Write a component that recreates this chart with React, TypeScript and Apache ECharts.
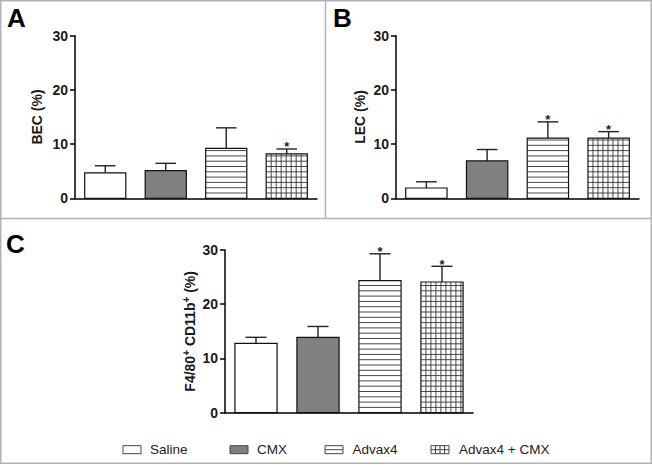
import React, { useEffect, useRef } from "react";
import * as echarts from "echarts";

const FONT = "'Liberation Sans', Arial, Helvetica, sans-serif";

// Data
const groups = ["Saline", "CMX", "Advax4", "Advax4 + CMX"];
const becMean = [4.7, 5.1, 9.2, 8.2];
const becSem = [1.3, 1.35, 3.8, 0.9];
const becSig = [false, false, false, true];
const lecMean = [1.9, 6.9, 11.1, 11.1];
const lecSem = [1.15, 2.1, 3.0, 1.2];
const lecSig = [false, false, true, true];
const macMean = [12.8, 13.9, 24.35, 24.1];
const macSem = [1.1, 2.0, 4.95, 2.9];
const macSig = [false, false, true, true];
const yMin = 0;
const yMax = 30;
const yInterval = 10;
const panelLetters = ["A", "B", "C"];
const yNames = ["BEC (%)", "LEC (%)", "F4/80{s|+} CD11b{s|+} (%)"];

const fills = ["#ffffff", "#808080", "#ffffff", "#ffffff"];
const patterns = ["none", "none", "h", "grid"];

function renderItem(params: any, api: any) {
  const idx = api.value(0);
  const mean = api.value(1);
  const sem = api.value(2);
  const sig = api.value(3);
  const top = api.coord([idx, mean]);
  const base = api.coord([idx, 0]);
  const band = api.size([1, 0])[0];
  const barW = band * 0.68;
  const cx = top[0];
  const x0 = cx - barW / 2;
  const h = base[1] - top[1];
  const children: any[] = [];
  const errTop = api.coord([idx, mean + sem]);
  children.push({
    type: "line",
    shape: { x1: cx, y1: top[1], x2: cx, y2: errTop[1] },
    style: { stroke: "#222", lineWidth: 1.4 },
  });
  children.push({
    type: "line",
    shape: { x1: cx - barW / 4, y1: errTop[1], x2: cx + barW / 4, y2: errTop[1] },
    style: { stroke: "#222", lineWidth: 1.4 },
  });
  children.push({
    type: "rect",
    shape: { x: x0, y: top[1], width: barW, height: h },
    style: { fill: fills[idx], stroke: "#111", lineWidth: 1.2 },
  });
  const pat = patterns[idx];
  if (pat === "h" || pat === "grid") {
    for (let y = base[1] - 5.3; y > top[1] + 1.5; y -= 5.3) {
      children.push({
        type: "line",
        shape: { x1: x0, y1: y, x2: x0 + barW, y2: y },
        style: { stroke: "#333", lineWidth: 0.9 },
      });
    }
  }
  if (pat === "grid") {
    for (let x = x0 + 5; x < x0 + barW - 1.5; x += 5) {
      children.push({
        type: "line",
        shape: { x1: x, y1: top[1], x2: x, y2: base[1] },
        style: { stroke: "#333", lineWidth: 0.9 },
      });
    }
  }
  if (sig) {
    children.push({
      type: "text",
      x: cx,
      y: errTop[1] - 2,
      style: {
        text: "*",
        fill: "#222",
        fontSize: 13,
        fontWeight: "bold",
        fontFamily: FONT,
        align: "center",
        verticalAlign: "middle",
      },
    });
  }
  return { type: "group", children };
}

export default function App() {
  const ref = useRef<HTMLDivElement>(null);
  useEffect(() => {
    if (!ref.current) return;
    const chart = echarts.init(ref.current, undefined, { renderer: "svg" });
    const panels = [
      { mean: becMean, sem: becSem, sig: becSig },
      { mean: lecMean, sem: lecSem, sig: lecSig },
      { mean: macMean, sem: macSem, sig: macSig },
    ];
    const grids = [
      { left: 75, top: 35.7, width: 242, height: 162.6 },
      { left: 396, top: 35.7, width: 243, height: 162.6 },
      { left: 225, top: 250, width: 248, height: 162.7 },
    ];
    const nameGaps = [30, 28, 25];
    const border = "#b3b3b3";
    const graphic: any[] = [
      {
        type: "rect",
        shape: { x: 0.75, y: 0.75, width: 650.5, height: 462.5 },
        style: { fill: "none", stroke: border, lineWidth: 1.5 },
      },
      {
        type: "line",
        shape: { x1: 325.5, y1: 0, x2: 325.5, y2: 218.5 },
        style: { stroke: border, lineWidth: 1.5 },
      },
      {
        type: "line",
        shape: { x1: 0, y1: 218.5, x2: 652, y2: 218.5 },
        style: { stroke: border, lineWidth: 1.5 },
      },
    ];
    const letterPos = [
      [7, 18],
      [333, 18],
      [6, 244],
    ];
    panelLetters.forEach((l, i) => {
      graphic.push({
        type: "text",
        x: letterPos[i][0],
        y: letterPos[i][1],
        style: {
          text: l,
          fill: "#000",
          fontSize: 26,
          fontWeight: "bold",
          fontFamily: FONT,
          align: "left",
          verticalAlign: "middle",
        },
      });
    });
    // Legend
    const legX = [123, 230, 325, 431];
    const legTextX = [150, 257, 352.5, 459];
    const iy = 445.7;
    const iw = 18;
    const ih = 8;
    groups.forEach((g, i) => {
      graphic.push({
        type: "rect",
        shape: { x: legX[i], y: iy, width: iw, height: ih },
        style: { fill: fills[i], stroke: "#444", lineWidth: 1 },
      });
      if (patterns[i] === "h" || patterns[i] === "grid") {
        graphic.push({
          type: "line",
          shape: { x1: legX[i], y1: iy + ih / 2, x2: legX[i] + iw, y2: iy + ih / 2 },
          style: { stroke: "#444", lineWidth: 1 },
        });
      }
      if (patterns[i] === "grid") {
        [4.5, 9, 13.5].forEach((dx) => {
          graphic.push({
            type: "line",
            shape: { x1: legX[i] + dx, y1: iy, x2: legX[i] + dx, y2: iy + ih },
            style: { stroke: "#444", lineWidth: 1 },
          });
        });
      }
      graphic.push({
        type: "text",
        x: legTextX[i],
        y: 449.7,
        style: {
          text: g,
          fill: "#222",
          fontSize: 13.5,
          fontFamily: FONT,
          align: "left",
          verticalAlign: "middle",
        },
      });
    });

    const option: any = {
      animation: false,
      textStyle: { fontFamily: FONT },
      grid: grids,
      xAxis: grids.map((_, i) => ({
        type: "category",
        gridIndex: i,
        data: groups,
        axisLine: { show: true, lineStyle: { color: "#000", width: 1.5 } },
        axisTick: { show: false },
        axisLabel: { show: false },
        splitLine: { show: false },
      })),
      yAxis: grids.map((_, i) => ({
        type: "value",
        gridIndex: i,
        min: yMin,
        max: yMax,
        interval: yInterval,
        axisLine: { show: true, lineStyle: { color: "#000", width: 1.5 } },
        axisTick: { show: true, length: 5, lineStyle: { color: "#000", width: 1.5 } },
        axisLabel: {
          color: "#1a1a1a",
          fontSize: 14,
          fontWeight: "bold",
          fontFamily: FONT,
          margin: 7,
        },
        splitLine: { show: false },
        name: yNames[i],
        nameLocation: "middle",
        nameGap: nameGaps[i],
        nameRotate: 90,
        nameTextStyle: {
          color: "#1a1a1a",
          fontSize: 14,
          fontWeight: "bold",
          fontFamily: FONT,
          lineHeight: 17,
          rich: {
            s: {
              fontSize: 10,
              fontWeight: "bold",
              fontFamily: FONT,
              color: "#1a1a1a",
              verticalAlign: "top",
              lineHeight: 10,
            },
          },
        },
      })),
      series: panels.map((p, i) => ({
        type: "custom",
        xAxisIndex: i,
        yAxisIndex: i,
        renderItem,
        data: p.mean.map((m, j) => [j, m, p.sem[j], p.sig[j] ? 1 : 0]),
      })),
      graphic,
    };
    chart.setOption(option);
    return () => chart.dispose();
  }, []);
  return (
    <div
      ref={ref}
      style={{ position: "fixed", left: 0, top: 0, width: 652, height: 465, background: "#fff" }}
    />
  );
}
